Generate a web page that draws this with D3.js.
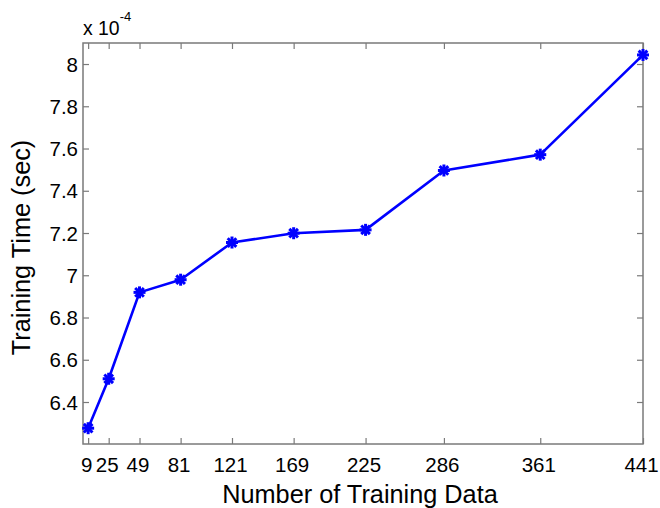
<!DOCTYPE html>
<html>
<head>
<meta charset="utf-8">
<script src="https://cdn.jsdelivr.net/npm/d3@7"></script>
<style>
  html, body { margin: 0; padding: 0; background: #fff; }
  svg { display: block; font-family: "Liberation Sans", Arial, sans-serif; }
</style>
</head>
<body>
<svg id="chart" width="660" height="508"></svg>
<script>
// Training set sizes and the measured training time (units of 1e-4 s)
const trainingSizes = [9, 25, 49, 81, 121, 169, 225, 286, 361, 441];
const trainingTime = [6.276, 6.51, 6.919, 6.979, 7.155, 7.199, 7.215, 7.496, 7.571, 8.043];
const xTickValues = [9, 25, 49, 81, 121, 169, 225, 286, 361, 441];
const yTickValues = [6.4, 6.6, 6.8, 7.0, 7.2, 7.4, 7.6, 7.8, 8.0];

const svg = d3.select("#chart");
const box = { left: 83, right: 643, top: 43, bottom: 444 };
const axisColor = "#7a7a7a";
const tickLen = 6;

const x = d3.scaleLinear().domain([5, 441]).range([box.left, box.right]);
const y = d3.scaleLinear().domain([6.2, 8.1]).range([444.25, 42.9]);

const fmt = v => d3.format("~g")(+v.toFixed(1));

// Inward ticks on all four sides (MATLAB box style)
const bottomAxis = d3.axisBottom(x).tickValues(xTickValues).tickSizeInner(-tickLen).tickSizeOuter(0).tickFormat("");
const topAxis = d3.axisTop(x).tickValues(xTickValues).tickSizeInner(-tickLen).tickSizeOuter(0).tickFormat("");
const leftAxis = d3.axisLeft(y).tickValues(yTickValues).tickSizeInner(-tickLen).tickSizeOuter(0).tickFormat("");
const rightAxis = d3.axisRight(y).tickValues(yTickValues).tickSizeInner(-tickLen).tickSizeOuter(0).tickFormat("");

function styleAxis(g) {
  g.select(".domain").remove();
  g.selectAll(".tick line").attr("stroke", axisColor).attr("stroke-width", 1.2);
}
svg.append("g").attr("transform", `translate(0,${box.bottom})`).call(bottomAxis).call(styleAxis);
svg.append("g").attr("transform", `translate(0,${box.top})`).call(topAxis).call(styleAxis);
svg.append("g").attr("transform", `translate(${box.left},0)`).call(leftAxis).call(styleAxis);
svg.append("g").attr("transform", `translate(${box.right},0)`).call(rightAxis).call(styleAxis);

// Axes frame
svg.append("rect")
  .attr("x", box.left).attr("y", box.top)
  .attr("width", box.right - box.left).attr("height", box.bottom - box.top)
  .attr("fill", "none").attr("stroke", axisColor).attr("stroke-width", 1.5);

// Tick labels
svg.append("g").selectAll("text").data(xTickValues).join("text")
  .attr("x", d => x(d) - 1.5).attr("y", 472)
  .attr("text-anchor", "middle").attr("font-size", 20.5).attr("fill", "#000")
  .text(d => d);

svg.append("g").selectAll("text").data(yTickValues).join("text")
  .attr("x", box.left - 5).attr("y", d => y(d) + 7.5)
  .attr("text-anchor", "end").attr("font-size", 20.5).attr("fill", "#000")
  .text(d => fmt(d));

// Exponent multiplier
const mult = svg.append("text").attr("x", 83).attr("y", 35).attr("font-size", 19.4).attr("fill", "#000");
mult.append("tspan").text("x 10");
mult.append("tspan").attr("dy", -14).attr("font-size", 13).text("-4");

// Axis titles
svg.append("text")
  .attr("x", 360).attr("y", 503)
  .attr("text-anchor", "middle").attr("font-size", 25.3).attr("fill", "#000")
  .text("Number of Training Data");

svg.append("text")
  .attr("transform", "translate(30,247.5) rotate(-90)")
  .attr("text-anchor", "middle").attr("font-size", 25.3).attr("fill", "#000")
  .text("Training Time (sec)");

// Series line
const data = trainingSizes.map((n, i) => ({ n, t: trainingTime[i] }));
svg.append("path")
  .datum(data)
  .attr("fill", "none").attr("stroke", "#0000ff").attr("stroke-width", 2.6)
  .attr("stroke-linejoin", "round")
  .attr("d", d3.line().x(d => x(d.n)).y(d => y(d.t)));

// Asterisk markers
const r = 6;
const markers = svg.append("g").selectAll("g").data(data).join("g")
  .attr("transform", d => `translate(${x(d.n)},${y(d.t)})`)
  .attr("stroke", "#0000ff").attr("stroke-width", 3).attr("stroke-linecap", "butt");
markers.append("line").attr("x1", -r).attr("x2", r).attr("y1", 0).attr("y2", 0);
markers.append("line").attr("x1", 0).attr("x2", 0).attr("y1", -r).attr("y2", r);
markers.append("line").attr("x1", -r * 0.72).attr("x2", r * 0.72).attr("y1", -r * 0.72).attr("y2", r * 0.72);
markers.append("line").attr("x1", -r * 0.72).attr("x2", r * 0.72).attr("y1", r * 0.72).attr("y2", -r * 0.72);
</script>
</body>
</html>
